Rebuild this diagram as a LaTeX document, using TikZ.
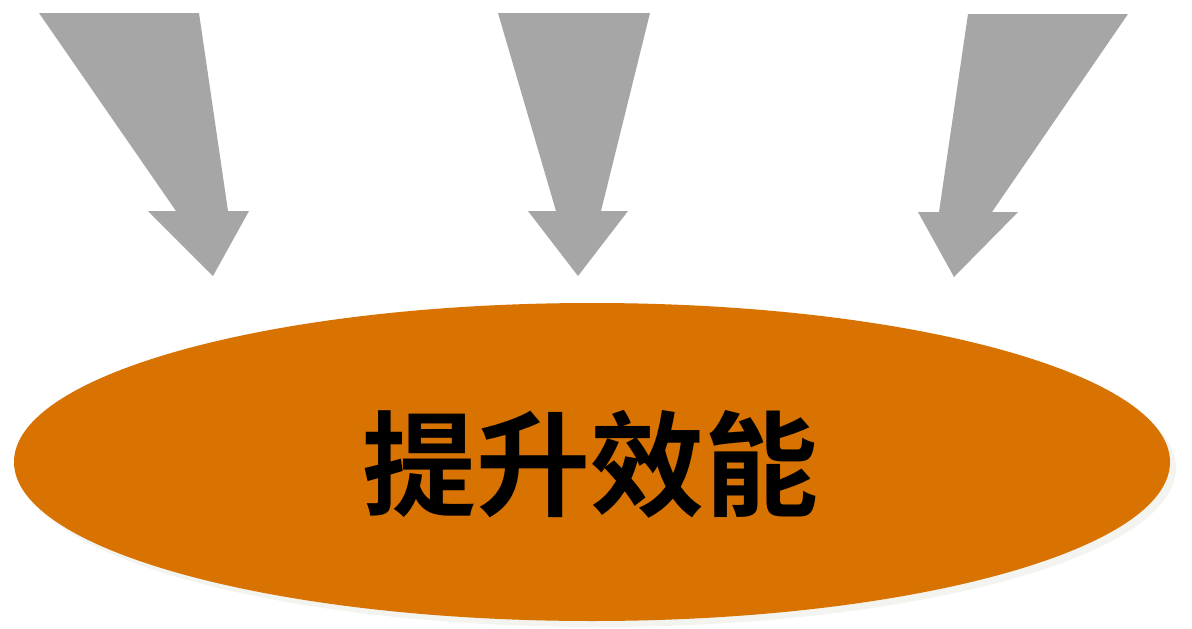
\documentclass[tikz,border=0pt]{standalone}
\usepackage{fontspec}
\newfontfamily\cjk{Noto Sans CJK SC Bold}
\usetikzlibrary{shapes.geometric}
\definecolor{arrgray}{HTML}{A6A6A6}
\definecolor{ellorange}{HTML}{D87200}
\definecolor{shadowgray}{HTML}{F3F3EF}
\tikzset{
  bigarrow/.style={fill=arrgray, draw=none},
  core/.style={ellipse, fill=ellorange, draw=none, minimum width=1156pt, minimum height=318pt, inner sep=0pt},
  coreshadow/.style={ellipse, fill=shadowgray, draw=none, minimum width=1156pt, minimum height=318pt, inner sep=0pt}
}
\begin{document}
\begin{tikzpicture}[x=1pt,y=-1pt]
\useasboundingbox (0,0) rectangle (1192,629);
\fill[white] (0,0) rectangle (1192,629);
% arrows
\fill[bigarrow] (39,13) -- (199,13) -- (228,211) -- (249,211) -- (213,276) -- (148,211) -- (176,211) -- cycle;
\fill[bigarrow] (498,13) -- (650,13) -- (601,211) -- (628,211) -- (578,276) -- (528,211) -- (556,211) -- cycle;
\fill[bigarrow] (968,14) -- (1128,14) -- (992,212) -- (1018,212) -- (954,277) -- (918,212) -- (939,212) -- cycle;
% ellipse
\node[coreshadow] (sh) at (598,468) {};
\node[core] (main) at (592,462) {};
\node (label) at (590,464) {\cjk\fontsize{114}{114}\selectfont 提升效能};
\end{tikzpicture}
\end{document}
